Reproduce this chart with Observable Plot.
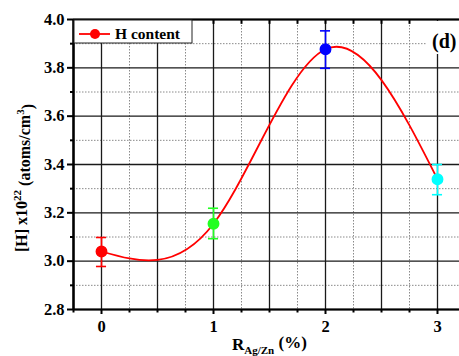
<!DOCTYPE html>
<html>
<head>
<meta charset="utf-8">
<script src="https://cdn.jsdelivr.net/npm/d3@7"></script>
<script src="https://cdn.jsdelivr.net/npm/@observablehq/plot@0.6"></script>
<style>
  html, body { margin: 0; padding: 0; background: #fff; overflow: hidden; }
  #chart svg { overflow: hidden; }
</style>
</head>
<body>
<div id="chart"></div>
<script>
// ---- data ----
const ratio = [0, 1, 2, 3];                       // R_Ag/Zn (%)
const hContent = [3.04, 3.155, 3.877, 3.339];     // [H] x10^22 atoms/cm^3
const errLow = [2.978, 3.093, 3.798, 3.275];
const errHigh = [3.098, 3.219, 3.953, 3.400];
const pointColors = ["#ff0000", "#22ff22", "#0000ff", "#00ffff"];
const xTickLabels = [0, 1, 2, 3];
const yTickLabels = [2.8, 3.0, 3.2, 3.4, 3.6, 3.8, 4.0];
const legendLabel = "H content";
const panelLabel = "(d)";

const data = ratio.map((x, i) => ({x, y: hContent[i], lo: errLow[i], hi: errHigh[i], c: pointColors[i]}));

const xMajor = d3.range(-0.5, 3.51, 0.5).filter(v => v > -0.25);
const xMinor = d3.range(-0.25, 3.3, 0.5);
const yMajor = yTickLabels;
const yMinor = d3.range(2.9, 4.0, 0.2);
const capHalf = 0.045;
const serif = "'Liberation Serif', 'Times New Roman', serif";

const W = 459, H = 356;
const chart = Plot.plot({
  width: W, height: H,
  marginLeft: 73, marginRight: -6, marginTop: 19, marginBottom: 47,
  x: {domain: [-0.25, 3.25]},
  y: {domain: [2.8, 4.0]},
  color: {type: "identity"},
  style: {fontFamily: serif, background: "white"},
  marks: [
    // minor grid (dotted)
    Plot.ruleX(xMinor, {stroke: "#8a8a8a", strokeWidth: 1, strokeDasharray: "1.5,1.5"}),
    Plot.ruleY(yMinor, {stroke: "#8a8a8a", strokeWidth: 1, strokeDasharray: "1.5,1.5"}),
    // major grid (solid)
    Plot.ruleX(xMajor, {stroke: "#1a1a1a", strokeWidth: 1.3}),
    Plot.ruleY(yMajor, {stroke: "#1a1a1a", strokeWidth: 1.3}),
    // top inward ticks
    Plot.ruleX(d3.range(0, 3.3, 0.25).filter(v => v < 2.9), {y1: 4.0, y2: 3.98, stroke: "#000", strokeWidth: 2}),
    // smooth curve
    Plot.line(data, {x: "x", y: "y", curve: "natural", stroke: "#ff0000", strokeWidth: 1.8}),
    // error bars
    Plot.ruleX(data, {x: "x", y1: "lo", y2: "hi", stroke: "c", strokeWidth: 1.6}),
    Plot.ruleY(data, {y: "lo", x1: d => d.x - capHalf, x2: d => d.x + capHalf, stroke: "c", strokeWidth: 1.6}),
    Plot.ruleY(data, {y: "hi", x1: d => d.x - capHalf, x2: d => d.x + capHalf, stroke: "c", strokeWidth: 1.6}),
    // points
    Plot.dot(data, {x: "x", y: "y", r: 5.2, fill: "c", stroke: "c"}),
    // frame
    Plot.ruleY([2.8, 4.0], {stroke: "#000", strokeWidth: 2.2}),
    Plot.ruleX([-0.25], {stroke: "#000", strokeWidth: 2.6}),
    // axes
    Plot.axisY({ticks: yTickLabels, tickFormat: d3.format(".1f"), tickSize: 6, tickPadding: 3,
      fontSize: 16.5, fontWeight: "bold", fontFamily: serif, fill: "#000", stroke: "#000", strokeWidth: 2, label: null}),
    Plot.axisY({ticks: yMinor, tickFormat: () => "", tickSize: 3, stroke: "#000", strokeWidth: 2, label: null}),
    Plot.axisX({ticks: xTickLabels, tickFormat: d3.format("d"), tickSize: 5, tickPadding: 6,
      fontSize: 16.5, fontWeight: "bold", fontFamily: serif, fill: "#000", stroke: "#000", strokeWidth: 2, label: null}),
    Plot.axisX({ticks: d3.range(-0.25, 3.3, 0.5).concat([0.5, 1.5, 2.5]), tickFormat: () => "", tickSize: 3.5,
      stroke: "#000", strokeWidth: 2, label: null})
  ]
});
document.getElementById("chart").appendChild(chart);

const svg = d3.select(chart);

// panel label with white backing
svg.append("rect").attr("x", 426).attr("y", 21).attr("width", 40).attr("height", 33).attr("fill", "#fff");
svg.append("text").attr("x", 432).attr("y", 48).attr("text-anchor", "start")
  .attr("font-family", serif).attr("font-weight", "bold").attr("font-size", 20).attr("fill", "#000")
  .text(panelLabel);

// legend box
const lg = svg.append("g");
lg.append("rect").attr("x", 74).attr("y", 20).attr("width", 118).attr("height", 23)
  .attr("fill", "#fff").attr("stroke", "#222").attr("stroke-width", 1);
lg.append("line").attr("x1", 79).attr("x2", 110).attr("y1", 34).attr("y2", 34)
  .attr("stroke", "#ff0000").attr("stroke-width", 1.8);
lg.append("circle").attr("cx", 95).attr("cy", 34).attr("r", 5).attr("fill", "#ff0000");
lg.append("text").attr("x", 115).attr("y", 38.5).attr("text-anchor", "start")
  .attr("font-family", serif).attr("font-weight", "bold").attr("font-size", 15.5).attr("fill", "#000")
  .text(legendLabel);

// y title
const yt = svg.append("text")
  .attr("transform", "translate(27,178) rotate(-90)")
  .attr("text-anchor", "middle")
  .attr("font-family", serif).attr("font-weight", "bold").attr("font-size", 16).attr("fill", "#000");
yt.append("tspan").text("[H] x10");
yt.append("tspan").attr("dy", "-0.55em").attr("font-size", 11).text("22");
yt.append("tspan").attr("dy", "0.55em").text(" (atoms/cm");
yt.append("tspan").attr("dy", "-0.55em").attr("font-size", 11).text("3");
yt.append("tspan").attr("dy", "0.55em").text(")");

// x title
const xt = svg.append("text").attr("x", 232).attr("y", 350).attr("text-anchor", "start")
  .attr("font-family", serif).attr("font-weight", "bold").attr("font-size", 17).attr("fill", "#000");
xt.append("tspan").text("R");
xt.append("tspan").attr("dy", "0.4em").attr("font-size", 11).text("Ag/Zn");
xt.append("tspan").attr("dy", "-0.4em").text(" (%)");
</script>
</body>
</html>
